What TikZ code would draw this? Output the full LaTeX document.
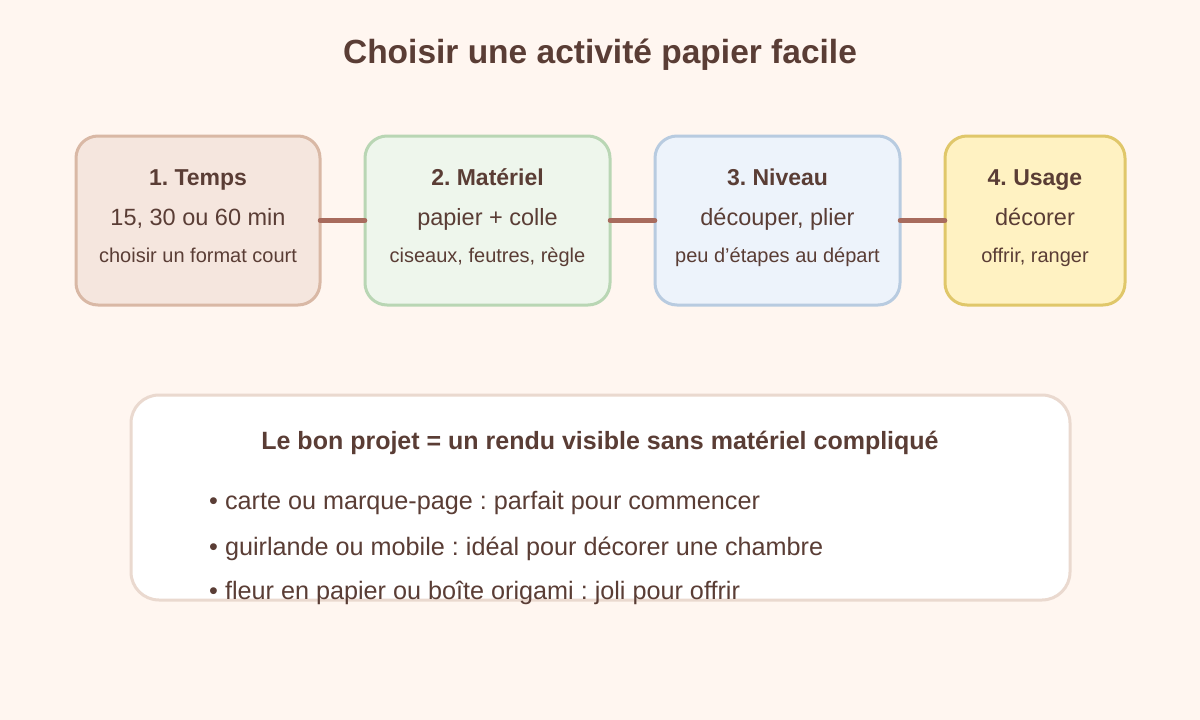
\documentclass[tikz,border=0pt]{standalone}
\usepackage{fontspec}
\setmainfont{Liberation Sans}
\frenchspacing
\definecolor{bg}{HTML}{FFF6F0}
\definecolor{ink}{HTML}{5A3D35}
\definecolor{link}{HTML}{A86B5D}
\definecolor{fa}{HTML}{F5E6DE}\definecolor{sa}{HTML}{D9B8A5}
\definecolor{fb}{HTML}{EEF6EC}\definecolor{sb}{HTML}{B9D6B4}
\definecolor{fc}{HTML}{EDF3FB}\definecolor{sc}{HTML}{B8CBE0}
\definecolor{fd}{HTML}{FFF2C2}\definecolor{sd}{HTML}{E0C76A}
\definecolor{se}{HTML}{EAD9CF}
\begin{document}
\begin{tikzpicture}[x=1pt,y=-1pt,
  card/.style={draw,line width=3pt,rounded corners=22pt,minimum height=169pt,inner sep=0pt,outer sep=0pt},
  txt/.style={text=ink,anchor=base,inner sep=0pt},
  head/.style={txt,font=\fontsize{23}{27}\selectfont\bfseries},
  mid/.style={txt,font=\fontsize{23.5}{27}\selectfont},
  small/.style={txt,font=\fontsize{20}{23}\selectfont},
  bul/.style={txt,anchor=base west,font=\fontsize{25.2}{29}\selectfont},
  joint/.style={draw=link,line width=4.5pt,line cap=round}]
\fill[bg] (0,0) rectangle (1200,720);
\useasboundingbox (0,0) rectangle (1200,720);
\node[txt,font=\fontsize{33.5}{40}\selectfont\bfseries] (title) at (600,63) {Choisir une activité papier facile};
\node[card,fill=fa,draw=sa,minimum width=244pt] (b1) at (198,220.5) {};
\node[card,fill=fb,draw=sb,minimum width=245pt] (b2) at (487.5,220.5) {};
\node[card,fill=fc,draw=sc,minimum width=245pt] (b3) at (777.5,220.5) {};
\node[card,fill=fd,draw=sd,minimum width=180pt] (b4) at (1035,220.5) {};
\draw[joint] (b1.east) -- (b2.west);
\draw[joint] (b2.east) -- (b3.west);
\draw[joint] (b3.east) -- (b4.west);
\node[head] (h1) at (198,185) {1. Temps};
\node[mid] (m1) at (198,225) {15, 30 ou 60 min};
\node[small] (s1) at (198,262) {choisir un format court};
\node[head] (h2) at (487.5,185) {2. Matériel};
\node[mid] (m2) at (487.5,225) {papier + colle};
\node[small] (s2) at (487.5,262) {ciseaux, feutres, règle};
\node[head] (h3) at (777.5,185) {3. Niveau};
\node[mid] (m3) at (777.5,225) {découper, plier};
\node[small] (s3) at (777.5,262) {peu d’étapes au départ};
\node[head] (h4) at (1035,185) {4. Usage};
\node[mid] (m4) at (1035,225) {décorer};
\node[small] (s4) at (1035,262) {offrir, ranger};
\node[draw=se,fill=white,line width=3pt,rounded corners=28pt,minimum width=939pt,minimum height=205pt,inner sep=0pt,outer sep=0pt] (note) at (600.5,497.5) {};
\node[txt,font=\fontsize{25}{29}\selectfont\bfseries] (nh) at (600,449) {Le bon projet = un rendu visible sans matériel compliqué};
\node[bul] (l1) at (209,509) {• carte ou marque-page : parfait pour commencer};
\node[bul] (l2) at (209,555) {• guirlande ou mobile : idéal pour décorer une chambre};
\node[bul] (l3) at (209,599) {• fleur en papier ou boîte origami : joli pour offrir};
\end{tikzpicture}
\end{document}
